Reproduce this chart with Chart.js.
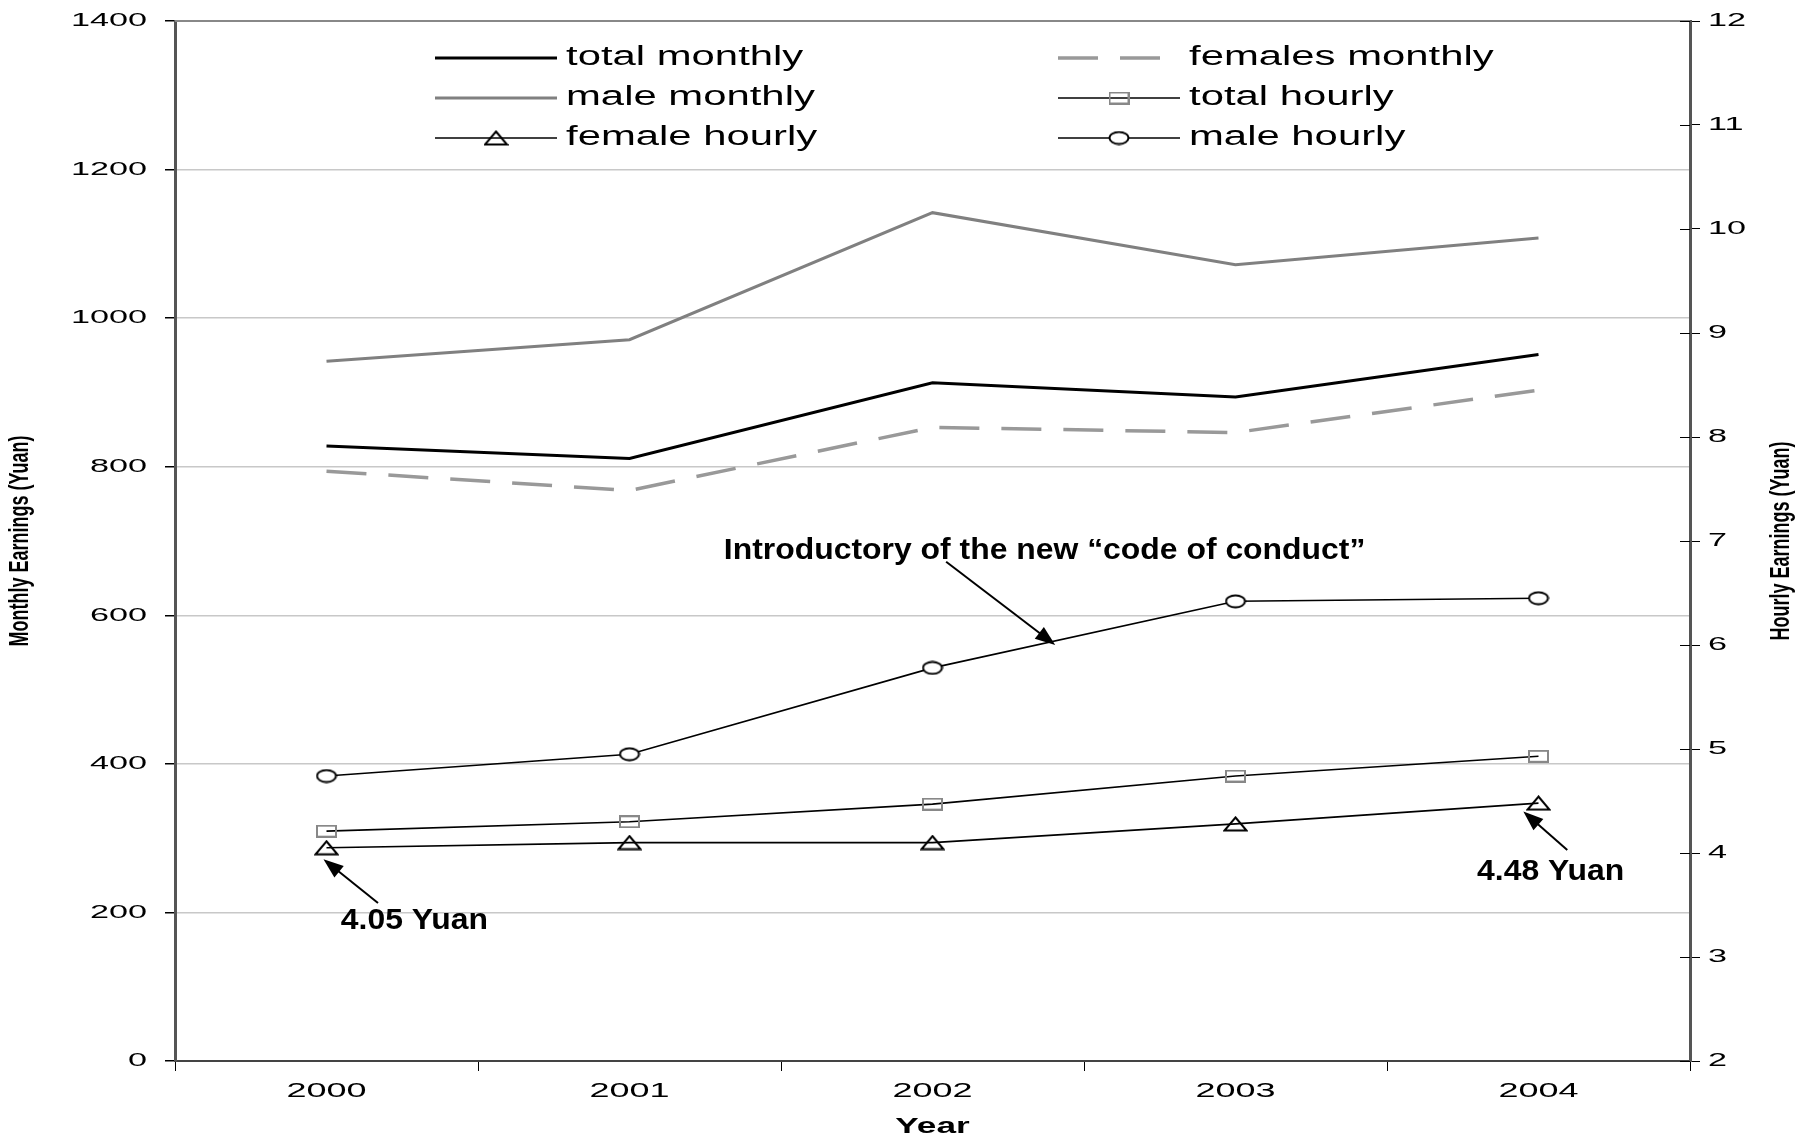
<!DOCTYPE html>
<html>
<head>
<meta charset="utf-8">
<script src="https://cdn.jsdelivr.net/npm/chart.js@4.4.1/dist/chart.umd.min.js"></script>
<style>
  html, body { margin: 0; padding: 0; background: #fff; }
  canvas { display: block; }
</style>
</head>
<body>
<canvas id="chart" width="1797" height="1138"></canvas>
<script>
// data
const years = ["2000", "2001", "2002", "2003", "2004"];
const totalMonthly = [828, 811, 913, 894, 951];
const femalesMonthly = [794, 768, 853, 846, 903];
const maleMonthly = [942, 971, 1142, 1072, 1108];
const totalHourly = [4.21, 4.30, 4.47, 4.74, 4.93];
const femaleHourly = [4.05, 4.10, 4.10, 4.28, 4.48];
const maleHourly = [4.74, 4.95, 5.78, 6.42, 6.45];

const monthlyRange = [0, 1400, 200];
const hourlyRange = [2, 12, 1];

const FONT = "'Liberation Sans', Arial, sans-serif";

// small canvases used as point markers (the original is stretched sideways)
const makeMarker = (w, h, draw) => {
  const c = document.createElement("canvas");
  c.width = w;
  c.height = h;
  draw(c.getContext("2d"), w, h);
  return c;
};

const circleMark = makeMarker(22, 15, (g, w, h) => {
  g.beginPath();
  g.ellipse(w / 2, h / 2, w / 2 - 1.5, h / 2 - 1.5, 0, 0, Math.PI * 2);
  g.fillStyle = "#fff";
  g.fill();
  g.lineWidth = 2;
  g.strokeStyle = "#000";
  g.stroke();
});

const squareMark = makeMarker(21, 13, (g, w, h) => {
  g.lineWidth = 2;
  g.strokeStyle = "#888";
  g.strokeRect(1, 1, w - 2, h - 2);
});

const triangleMark = makeMarker(25, 16, (g, w, h) => {
  g.beginPath();
  g.moveTo(w / 2, 1.5);
  g.lineTo(w - 1.5, h - 1.5);
  g.lineTo(1.5, h - 1.5);
  g.closePath();
  g.lineWidth = 2;
  g.strokeStyle = "#000";
  g.stroke();
});

// annotation placement, in category index / hourly units
const notes = [
  { text: "Introductory of the new \u201ccode of conduct\u201d", x: 2.37, y: 6.9, from: [2.045, 6.8], to: [2.405, 6.0] },
  { text: "4.05 Yuan", x: 0.29, y: 3.35, from: [0.17, 3.52], to: [-0.01, 3.94] },
  { text: "4.48 Yuan", x: 4.04, y: 3.82, from: [4.095, 4.03], to: [3.95, 4.4] },
];

const sText = (ctx, txt, x, y, font, sx, align, baseline, rot) => {
  ctx.save();
  ctx.translate(x, y);
  ctx.scale(sx, 1);
  if (rot) ctx.rotate(rot);
  ctx.font = font;
  ctx.textAlign = align;
  ctx.textBaseline = baseline;
  ctx.fillStyle = "#000";
  ctx.fillText(txt, 0, 0);
  ctx.restore();
};

const arrow = (ctx, x1, y1, x2, y2) => {
  const a = Math.atan2(y2 - y1, x2 - x1);
  const len = 20, half = 7.5;
  ctx.save();
  ctx.strokeStyle = "#000";
  ctx.fillStyle = "#000";
  ctx.lineWidth = 2;
  ctx.beginPath();
  ctx.moveTo(x1, y1);
  ctx.lineTo(x2 - Math.cos(a) * len * 0.8, y2 - Math.sin(a) * len * 0.8);
  ctx.stroke();
  ctx.beginPath();
  ctx.moveTo(x2, y2);
  ctx.lineTo(x2 - Math.cos(a) * len - Math.sin(a) * half, y2 - Math.sin(a) * len + Math.cos(a) * half);
  ctx.lineTo(x2 - Math.cos(a) * len + Math.sin(a) * half, y2 - Math.sin(a) * len - Math.cos(a) * half);
  ctx.closePath();
  ctx.fill();
  ctx.restore();
};

const overlay = {
  id: "overlay",
  afterDraw(chart) {
    const { ctx, chartArea: area, scales } = chart;
    const xs = scales.x, ys = scales.y, yh = scales.y1;

    // top border of the plot
    ctx.save();
    ctx.strokeStyle = "#888";
    ctx.lineWidth = 2;
    ctx.beginPath();
    ctx.moveTo(area.left, area.top);
    ctx.lineTo(area.right, area.top);
    ctx.stroke();
    // right axis ticks cross the axis
    ctx.strokeStyle = "#000";
    ctx.lineWidth = 1;
    yh.ticks.forEach((t) => {
      const p = Math.round(yh.getPixelForValue(t.value)) + 0.5;
      ctx.beginPath();
      ctx.moveTo(area.right - 10, p);
      ctx.lineTo(area.right, p);
      ctx.stroke();
    });
    ctx.restore();

    // tick labels
    ys.ticks.forEach((t) => {
      sText(ctx, String(t.value), area.left - 28, ys.getPixelForValue(t.value), `19px ${FONT}`, 1.8, "right", "middle");
    });
    yh.ticks.forEach((t) => {
      sText(ctx, String(t.value), area.right + 18, yh.getPixelForValue(t.value), `19px ${FONT}`, 1.8, "left", "middle");
    });
    years.forEach((lab, i) => {
      sText(ctx, lab, xs.getPixelForValue(i), area.bottom + 30, `20px ${FONT}`, 1.8, "center", "middle");
    });

    // axis titles
    const mid = (area.top + area.bottom) / 2;
    sText(ctx, "Year", (area.left + area.right) / 2, area.bottom + 66, `bold 22px ${FONT}`, 1.6, "center", "middle");
    sText(ctx, "Monthly Earnings (Yuan)", 21, mid, `bold 18px ${FONT}`, 1.5, "center", "middle", -Math.PI / 2);
    sText(ctx, "Hourly Earnings (Yuan)", 1782, mid, `bold 18px ${FONT}`, 1.5, "center", "middle", -Math.PI / 2);

    // annotations with arrows
    notes.forEach((n) => {
      sText(ctx, n.text, xs.getPixelForValue(n.x), yh.getPixelForValue(n.y), `bold 29px ${FONT}`, 1.1, "center", "middle");
      arrow(ctx, xs.getPixelForValue(n.from[0]), yh.getPixelForValue(n.from[1]),
        xs.getPixelForValue(n.to[0]), yh.getPixelForValue(n.to[1]));
    });

    // legend, two columns inside the plot
    const colX = [435, 1058];
    chart.data.datasets.forEach((ds, i) => {
      const x0 = colX[i % 2];
      const y = 58 + Math.floor(i / 2) * 40;
      const x1 = x0 + 122;
      ctx.save();
      ctx.strokeStyle = ds.borderColor;
      ctx.lineWidth = ds.borderWidth;
      ctx.setLineDash(ds.borderDash || []);
      ctx.beginPath();
      ctx.moveTo(x0, y);
      ctx.lineTo(ds.borderDash ? x0 + 102 : x1, y);
      ctx.stroke();
      ctx.restore();
      if (ds.pointRadius > 0) {
        const m = ds.pointStyle;
        ctx.drawImage(m, (x0 + x1) / 2 - m.width / 2, y - m.height / 2);
      }
      sText(ctx, ds.label, x1 + 9, y, `27px ${FONT}`, 1.55, "left", "middle");
    });
  },
};

new Chart(document.getElementById("chart").getContext("2d"), {
  type: "line",
  data: {
    labels: years,
    datasets: [
      { label: "total monthly", data: totalMonthly, yAxisID: "y", borderColor: "#000", borderWidth: 3, pointRadius: 0 },
      { label: "females monthly", data: femalesMonthly, yAxisID: "y", borderColor: "#999", borderWidth: 3.5, borderDash: [40, 22], pointRadius: 0 },
      { label: "male monthly", data: maleMonthly, yAxisID: "y", borderColor: "#808080", borderWidth: 3, pointRadius: 0 },
      { label: "total hourly", data: totalHourly, yAxisID: "y1", borderColor: "#000", borderWidth: 1.6, pointRadius: 8, pointStyle: squareMark },
      { label: "female hourly", data: femaleHourly, yAxisID: "y1", borderColor: "#000", borderWidth: 1.6, pointRadius: 8, pointStyle: triangleMark },
      { label: "male hourly", data: maleHourly, yAxisID: "y1", borderColor: "#000", borderWidth: 1.6, pointRadius: 8, pointStyle: circleMark },
    ],
  },
  options: {
    responsive: false,
    animation: false,
    layout: { padding: { top: 21, left: 0, right: 0, bottom: 0 } },
    elements: { line: { tension: 0, fill: false } },
    plugins: { legend: { display: false }, tooltip: { enabled: false } },
    scales: {
      x: {
        offset: true,
        ticks: { display: false },
        grid: { offset: true, drawOnChartArea: false, drawTicks: true, tickLength: 10, tickColor: "#000" },
        border: { color: "#444", width: 2 },
        afterFit: (s) => { s.height = 77; },
      },
      y: {
        position: "left",
        min: monthlyRange[0],
        max: monthlyRange[1],
        ticks: { stepSize: monthlyRange[2], display: false },
        grid: { color: "#c8c8c8", lineWidth: 1.5, tickLength: 10, tickColor: "#000" },
        border: { color: "#555", width: 3 },
        afterFit: (s) => { s.width = 175; },
      },
      y1: {
        position: "right",
        min: hourlyRange[0],
        max: hourlyRange[1],
        ticks: { stepSize: hourlyRange[2], display: false },
        grid: { drawOnChartArea: false, tickLength: 10, tickColor: "#000" },
        border: { color: "#555", width: 3 },
        afterFit: (s) => { s.width = 107; },
      },
    },
  },
  plugins: [overlay],
});
</script>
</body>
</html>
